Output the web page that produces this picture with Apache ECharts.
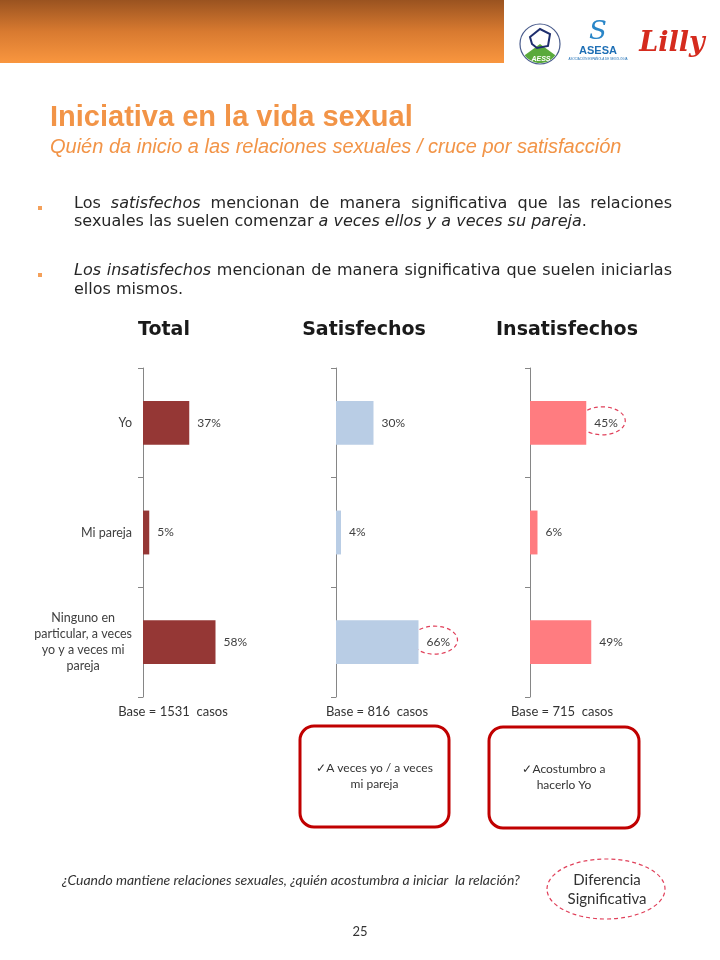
<!DOCTYPE html>
<html><head><meta charset="utf-8">
<script src="https://cdn.jsdelivr.net/npm/echarts@6/dist/echarts.min.js"></script>
<style>html,body{margin:0;padding:0;background:#fff}#c{width:720px;height:960px}</style>
</head><body><div id="c"></div>
<script>
// ---------- DATA ----------
const categories = ['Yo', 'Mi pareja', 'Ninguno en\nparticular, a veces\nyo y a veces mi\npareja'];
const totalValues = [37, 5, 58];
const satisfechosValues = [30, 4, 66];
const insatisfechosValues = [45, 6, 49];
const panelTitles = ['Total', 'Satisfechos', 'Insatisfechos'];
const baseLabels = ['Base = 1531  casos', 'Base = 816  casos', 'Base = 715  casos'];
const significant = [[false, false, false], [false, false, true], [true, false, false]];
const calloutTexts = ['\u2713A veces yo / a veces\nmi pareja', '\u2713Acostumbro a\nhacerlo Yo'];
const titleText = 'Iniciativa en la vida sexual';
const subtitleText = 'Quién da inicio a las relaciones sexuales / cruce por satisfacción';
const bulletLines = [
  ['Los _satisfechos_ mencionan de manera significativa que las relaciones',
   'sexuales las suelen comenzar _a veces ellos y a veces su pareja_.'],
  ['_Los insatisfechos_ mencionan de manera significativa que suelen iniciarlas',
   'ellos mismos.']
];
const questionText = '¿Cuando mantiene relaciones sexuales, ¿quién acostumbra a iniciar  la relación?';
const legendText = 'Diferencia\nSignificativa';
const pageNumber = '25';

// ---------- LAYOUT ----------
const valuesList = [totalValues, satisfechosValues, insatisfechosValues];
const barColors = ['#953735', '#B9CDE5', '#FF7C80'];
const gridLefts = [143, 336, 530];
const gridTop = 368, gridW = 125, gridH = 329;
const panelTitleX = [164, 364, 567];
const baseX = [173, 377, 562];
const textColor = '#404040';
const orange = '#F29447';
const sigColor = '#E0405A';

const chart = echarts.init(document.getElementById('c'), null, {renderer: 'canvas'});

chart.setOption({
  animation: false,
  backgroundColor: '#ffffff',
  grid: gridLefts.map(l => ({left: l, top: gridTop, width: gridW, height: gridH, outerBoundsMode: 'none'})),
  xAxis: [0, 1, 2].map(i => ({type: 'value', gridIndex: i, min: 0, max: 100, show: false})),
  yAxis: [0, 1, 2].map(i => ({
    type: 'category', gridIndex: i, inverse: true, data: categories,
    axisLine: {show: true, lineStyle: {color: '#868686', width: 1}},
    axisTick: {show: true, length: 5, lineStyle: {color: '#868686'}},
    splitLine: {show: false},
    axisLabel: {
      show: i === 0, margin: 11,
      formatter: v => '{c|' + v + '}',
      rich: {c: {align: 'center', fontFamily: 'Lato', fontSize: 12.5, lineHeight: 16, color: textColor}}
    }
  })),
  series: valuesList.map((vals, i) => ({
    type: 'bar', xAxisIndex: i, yAxisIndex: i, data: vals, barWidth: '40%', silent: true,
    itemStyle: {color: barColors[i]},
    label: {show: true, position: 'right', distance: 8, formatter: '{c}%',
      fontFamily: 'Lato', fontSize: 12, color: textColor}
  }))
});

// ---------- GRAPHICS ----------
const mctx = document.createElement('canvas').getContext('2d');
function measure(text, font) { mctx.font = font; return mctx.measureText(text).width; }

function parseLine(str) {
  const words = []; let it = false; let cur = []; let buf = '';
  const flush = () => { if (buf) { cur.push({t: buf, it}); buf = ''; } };
  for (const ch of str) {
    if (ch === '_') { flush(); it = !it; continue; }
    if (ch === ' ') { flush(); if (cur.length) { words.push(cur); cur = []; } continue; }
    buf += ch;
  }
  flush(); if (cur.length) words.push(cur);
  return words;
}

const els = [];
// header bar
els.push({type: 'rect', shape: {x: 0, y: 0, width: 504, height: 63},
  style: {fill: new echarts.graphic.LinearGradient(0, 0, 0, 1, [
    {offset: 0, color: '#9A5320'}, {offset: 0.5, color: '#D87A30'}, {offset: 1, color: '#F9963F'}])}});
// logos (approximations)
els.push({type: 'circle', shape: {cx: 540, cy: 44, r: 20}, style: {fill: '#fff', stroke: '#4A5C8C', lineWidth: 1.2}});
els.push({type: 'sector', shape: {cx: 540, cy: 44, r: 19, startAngle: 0.2 * Math.PI, endAngle: 0.8 * Math.PI}, style: {fill: '#5AAA3C'}});
els.push({type: 'polygon', shape: {points: [[530, 37], [540, 29], [550, 34], [548, 46], [537, 48], [532, 44]]}, style: {fill: 'none', stroke: '#1E2E6E', lineWidth: 2}});
els.push({type: 'text', x: 541, y: 59, style: {text: 'AESS', font: 'italic bold 7px "Liberation Sans"', fill: '#fff', align: 'center', verticalAlign: 'middle'}});
els.push({type: 'text', x: 598, y: 32, style: {text: 'S', font: 'italic 26px "DejaVu Serif"', fill: '#2A86C8', align: 'center', verticalAlign: 'middle'}});
els.push({type: 'text', x: 598, y: 51, style: {text: 'ASESA', font: 'bold 11px "Liberation Sans"', fill: '#1E6FB5', align: 'center', verticalAlign: 'middle'}});
els.push({type: 'text', x: 598, y: 59, style: {text: 'ASOCIACIÓN ESPAÑOLA DE SEXOLOGÍA', font: '3px "Liberation Sans"', fill: '#1E6FB5', align: 'center', verticalAlign: 'middle'}});
els.push({type: 'text', x: 672, y: 44, style: {text: 'Lilly', font: 'italic bold 27px "DejaVu Serif"', fill: '#D52B1E', align: 'center', verticalAlign: 'middle'}});
// titles
els.push({type: 'text', x: 50, y: 118, style: {text: titleText, font: 'bold 29px "Liberation Sans"', fill: orange, verticalAlign: 'middle'}});
els.push({type: 'text', x: 50, y: 147, style: {text: subtitleText, font: 'italic 20px "Liberation Sans"', fill: orange, verticalAlign: 'middle'}});
// bullets (justified first lines)
const bFont = '16px "DejaVu Sans"', bFontI = 'italic 16px "DejaVu Sans"';
const bLeft = 74, bRight = 672;
const bulletY = [[204, 222], [271, 290]];
bulletLines.forEach((lines, bi) => {
  els.push({type: 'rect', shape: {x: 38, y: bulletY[bi][0] + 2, width: 4, height: 4}, style: {fill: '#F4A05A'}});
  lines.forEach((line, li) => {
    const words = parseLine(line);
    const wWidths = words.map(w => w.reduce((s, p) => s + measure(p.t, p.it ? bFontI : bFont), 0));
    const total = wWidths.reduce((a, b) => a + b, 0);
    const justify = li < lines.length - 1;
    const gap = justify ? (bRight - bLeft - total) / (words.length - 1) : measure(' ', bFont);
    let x = bLeft;
    words.forEach(w => {
      w.forEach(p => {
        const f = p.it ? bFontI : bFont;
        els.push({type: 'text', x: x, y: bulletY[bi][li], style: {text: p.t, font: f, fill: '#262626', verticalAlign: 'middle'}});
        x += measure(p.t, f);
      });
      x += gap;
    });
  });
});
// panel titles and base labels
panelTitles.forEach((t, i) => {
  els.push({type: 'text', x: panelTitleX[i], y: 330, style: {text: t, font: 'bold 19px "DejaVu Sans"', fill: '#1a1a1a', align: 'center', verticalAlign: 'middle'}});
  els.push({type: 'text', x: baseX[i], y: 712, style: {text: baseLabels[i], font: '13px Lato', fill: '#333', align: 'center', verticalAlign: 'middle'}});
});
// significance ellipses around labels
valuesList.forEach((vals, si) => {
  vals.forEach((v, ci) => {
    if (!significant[si][ci]) return;
    const p = chart.convertToPixel({seriesIndex: si}, [v, ci]);
    els.push({type: 'ellipse', shape: {cx: p[0] + 16, cy: p[1] - 2, rx: 23, ry: 14},
      style: {fill: 'none', stroke: sigColor, lineWidth: 1.2, lineDash: [4, 3]}});
  });
});
// callout boxes
const boxes = [{x: 300, y: 726, w: 149, h: 101}, {x: 489, y: 727, w: 150, h: 101}];
boxes.forEach((b, i) => {
  els.push({type: 'rect', shape: {x: b.x, y: b.y, width: b.w, height: b.h, r: 14}, style: {fill: '#fff', stroke: '#C00000', lineWidth: 3}});
  els.push({type: 'text', x: b.x + b.w / 2, y: b.y + 50, style: {text: calloutTexts[i], font: '12px Lato', fill: '#333', align: 'center', verticalAlign: 'middle', lineHeight: 16}});
});
// question footer
els.push({type: 'text', x: 62, y: 880, style: {text: questionText, font: 'italic 14px Lato', fill: '#333', verticalAlign: 'middle'}});
// legend ellipse
els.push({type: 'ellipse', shape: {cx: 606, cy: 889, rx: 59, ry: 30}, style: {fill: 'none', stroke: sigColor, lineWidth: 1.2, lineDash: [4, 3]}});
els.push({type: 'text', x: 607, y: 890, style: {text: legendText, font: '15px Lato', fill: '#333', align: 'center', verticalAlign: 'middle', lineHeight: 19}});
// page number
els.push({type: 'text', x: 360, y: 932, style: {text: pageNumber, font: '13px Lato', fill: '#333', align: 'center', verticalAlign: 'middle'}});

chart.setOption({graphic: {elements: els.map(e => Object.assign({silent: true}, e))}});
</script></body></html>
